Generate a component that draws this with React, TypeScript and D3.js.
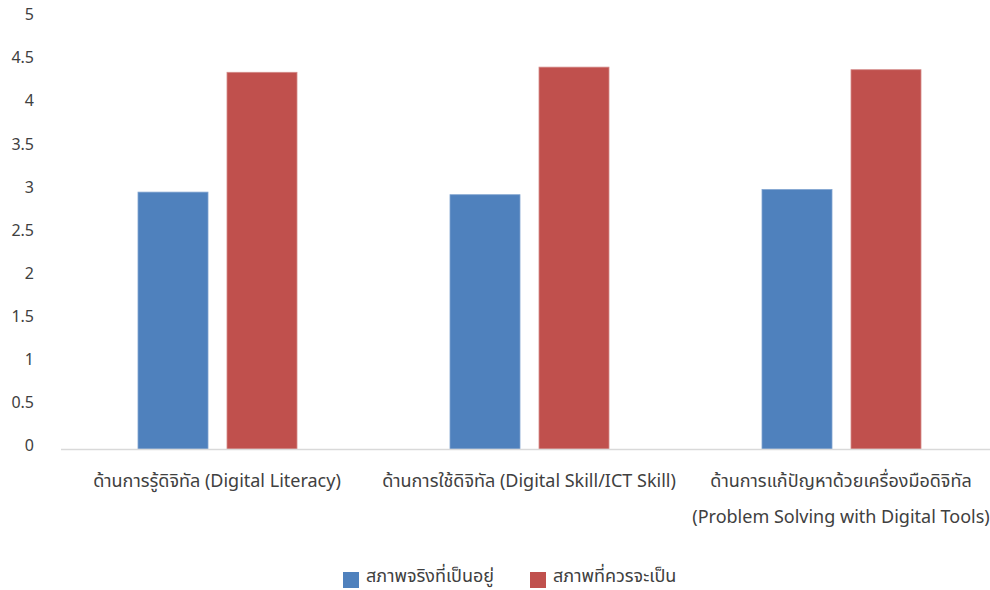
import React from "react";
import * as d3 from "d3";

const categories: string[][] = [
  ["ด้านการรู้ดิจิทัล (Digital Literacy)"],
  ["ด้านการใช้ดิจิทัล (Digital Skill/ICT Skill)"],
  ["ด้านการแก้ปัญหาด้วยเครื่องมือดิจิทัล", "(Problem Solving with Digital Tools)"],
];
const seriesNames = ["สภาพจริงที่เป็นอยู่", "สภาพที่ควรจะเป็น"];
const actualValues = [2.98, 2.95, 3.01];
const expectedValues = [4.37, 4.43, 4.40];
const yTicks = [0, 0.5, 1, 1.5, 2, 2.5, 3, 3.5, 4, 4.5, 5];
const colors = ["#4F81BD", "#C0504D"];

const W = 990;
const H = 590;
const font = "'Noto Sans', 'Noto Sans Thai', Tahoma, 'DejaVu Sans', sans-serif";
const textColor = "#404040";

export default function App() {
  const x0 = d3.scaleBand<number>().domain([0, 1, 2]).range([61.5, 997.5]).padding(0);
  const x1 = d3
    .scaleBand<number>()
    .domain([0, 1])
    .range([76.5, 235.5])
    .paddingInner(0.2135)
    .paddingOuter(0);
  const y = d3.scaleLinear().domain([0, 5]).range([449, 18]);
  const series = [actualValues, expectedValues];

  return (
    <svg
      width={W}
      height={H}
      style={{ position: "absolute", left: 0, top: 0, background: "#fff" }}
      fontFamily={font}
    >
      <rect width={W} height={H} fill="#fff" />
      {yTicks.map((t) => (
        <text
          key={t}
          x={34}
          y={y(t) - 2}
          textAnchor="end"
          dominantBaseline="middle"
          fontSize={16}
          fill={textColor}
        >
          {t}
        </text>
      ))}
      {series.map((vals, si) =>
        vals.map((v, ci) => (
          <rect
            key={`${si}-${ci}`}
            x={(x0(ci) ?? 0) + (x1(si) ?? 0)}
            y={y(v)}
            width={x1.bandwidth()}
            height={y(0) - y(v)}
            fill={colors[si]}
            stroke={si === 0 ? "#7fa3d0" : "#d48a88"}
            strokeWidth={0.8}
          />
        ))
      )}
      <line x1={61} x2={W} y1={449.5} y2={449.5} stroke="#d9d9d9" strokeWidth={1.5} />
      {categories.map((lines, ci) =>
        lines.map((ln, li) => (
          <text
            key={`${ci}-${li}`}
            x={(x0(ci) ?? 0) + x0.bandwidth() / 2 - 0.5}
            y={482 + li * 36}
            textAnchor="middle"
            dominantBaseline="middle"
            fontSize={18}
            fill={textColor}
          >
            {ln}
          </text>
        ))
      )}
      {seriesNames.map((name, i) => {
        const lx = i === 0 ? 343 : 530;
        return (
          <g key={name}>
            <rect x={lx} y={572} width={16} height={16} fill={colors[i]} />
            <text
              x={lx + 23}
              y={577}
              dominantBaseline="middle"
              fontSize={18}
              fill={textColor}
            >
              {name}
            </text>
          </g>
        );
      })}
    </svg>
  );
}
